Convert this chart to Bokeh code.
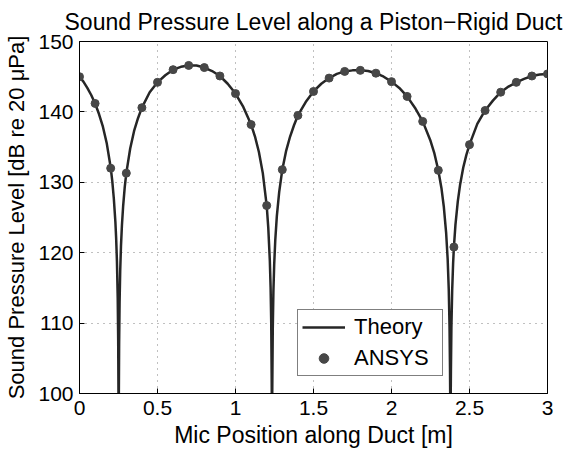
from bokeh.plotting import figure
from bokeh.models import Legend, LegendItem, FixedTicker, Range1d
from bokeh.embed import file_html
from bokeh.resources import INLINE

# Theory curve
theory_x = [0.000, 0.025, 0.050, 0.075, 0.100, 0.125, 0.150, 0.175, 0.200, 0.210,
            0.220, 0.230, 0.235, 0.240, 0.245, 0.248, 0.251,
            0.254, 0.257, 0.261, 0.266, 0.272, 0.280, 0.290, 0.300, 0.325, 0.350,
            0.375, 0.400, 0.450, 0.500, 0.550, 0.600, 0.650, 0.700, 0.750, 0.800,
            0.850, 0.900, 0.950, 1.000, 1.050, 1.100, 1.125, 1.150, 1.175, 1.200,
            1.210, 1.220, 1.225, 1.229, 1.232, 1.234,
            1.236, 1.239, 1.243, 1.248, 1.255, 1.265, 1.280, 1.300, 1.325, 1.350,
            1.375, 1.400, 1.450, 1.500, 1.550, 1.600, 1.650, 1.700, 1.750, 1.800,
            1.850, 1.900, 1.950, 2.000, 2.050, 2.100, 2.150, 2.200, 2.250, 2.275,
            2.300, 2.320, 2.335, 2.350, 2.360, 2.367, 2.372, 2.375, 2.378,
            2.381, 2.384, 2.389, 2.395, 2.400, 2.410, 2.425, 2.440, 2.460, 2.480,
            2.500, 2.550, 2.600, 2.650, 2.700, 2.750, 2.800, 2.850, 2.900, 2.950,
            3.000]
theory_y = [145.0, 144.3, 143.4, 142.4, 141.2, 139.7, 137.9, 135.5, 132.1, 130.2,
            127.7, 124.4, 122.0, 118.8, 113.5, 107.5, 95.0,
            107.0, 113.0, 117.5, 121.0, 123.9, 126.7, 129.3, 131.3, 134.8, 137.3,
            139.1, 140.6, 142.8, 144.2, 145.2, 146.0, 146.4, 146.6, 146.6, 146.3,
            145.8, 145.1, 144.0, 142.6, 140.7, 138.2, 136.5, 134.3, 131.3, 126.7,
            123.6, 118.9, 115.1, 110.0, 102.0, 95.0,
            101.4, 109.3, 114.5, 118.3, 121.8, 125.2, 128.6, 131.8, 134.5, 136.5,
            138.1, 139.5, 141.4, 142.9, 144.0, 144.8, 145.4, 145.75, 145.9, 145.9,
            145.8, 145.5, 145.0, 144.3, 143.4, 142.2, 140.6, 138.65, 135.9, 134.1,
            131.7, 129.2, 126.6, 122.9, 119.1, 114.8, 109.5, 103.5, 95.0,
            103.4, 109.4, 114.7, 118.5, 120.8, 124.0, 127.3, 129.7, 132.1, 133.9,
            135.35, 138.3, 140.2, 141.6, 142.8, 143.6, 144.2, 144.7, 145.1, 145.3,
            145.4]

# ANSYS results
ansys_x = [0.0, 0.1, 0.2, 0.3, 0.4, 0.5, 0.6, 0.7, 0.8, 0.9, 1.0, 1.1, 1.2, 1.3,
           1.4, 1.5, 1.6, 1.7, 1.8, 1.9, 2.0, 2.1, 2.2, 2.3, 2.4, 2.5, 2.6, 2.7,
           2.8, 2.9, 3.0]
ansys_y = [145.0, 141.2, 132.0, 131.3, 140.6, 144.2, 146.0, 146.6, 146.3, 145.1,
           142.6, 138.2, 126.7, 131.8, 139.5, 142.9, 144.8, 145.75, 145.9, 145.5,
           144.3, 142.2, 138.65, 131.7, 120.8, 135.35, 140.2, 142.8, 144.2, 145.1,
           145.4]

x_ticks = [0, 0.5, 1, 1.5, 2, 2.5, 3]
x_tick_labels = ["0", "0.5", "1", "1.5", "2", "2.5", "3"]
y_ticks = [100, 110, 120, 130, 140, 150]
y_tick_labels = ["100", "110", "120", "130", "140", "150"]

title_text = "Sound Pressure Level along a Piston\u2212Rigid Duct"
x_label = "Mic Position along Duct [m]"
y_label = "Sound Pressure Level [dB re 20 \u03bcPa]"
series_names = ["Theory", "ANSYS"]

FONT = "Liberation Sans"

p = figure(width=564, height=450, output_backend="svg", toolbar_location=None,
           x_range=Range1d(0, 3), y_range=Range1d(100, 150),
           min_border_left=79, min_border_right=17, min_border_top=40,
           min_border_bottom=57, title=title_text)

p.title.text_font = FONT
p.title.text_font_size = "23px"
p.title.text_font_style = "normal"
p.title.text_color = "black"
p.title.align = "center"
p.title.standoff = 13

p.outline_line_color = "black"
p.outline_line_width = 1
p.background_fill_color = "white"
p.border_fill_color = "white"


def style_axis(ax, ticks, labels):
    ax.ticker = FixedTicker(ticks=ticks)
    ax.major_label_overrides = {t: l for t, l in zip(ticks, labels)}
    ax.axis_line_color = "black"
    ax.axis_line_width = 1
    ax.major_tick_line_color = "black"
    ax.major_tick_in = 5
    ax.major_tick_out = 0
    ax.minor_tick_line_color = None
    ax.major_label_text_font = FONT
    ax.major_label_text_color = "black"
    ax.major_label_text_font_size = "21px"


xa = p.xaxis[0]
ya = p.yaxis[0]
style_axis(xa, x_ticks, x_tick_labels)
style_axis(ya, y_ticks, y_tick_labels)
xa.major_label_standoff = 7
ya.major_label_standoff = 6
xa.axis_label = x_label
ya.axis_label = y_label
xa.axis_label_text_font_size = "23px"
ya.axis_label_text_font_size = "22px"
for ax in (xa, ya):
    ax.axis_label_text_font = FONT
    ax.axis_label_text_font_style = "normal"
    ax.axis_label_text_color = "black"
xa.axis_label_standoff = 4
ya.axis_label_standoff = 6

p.xgrid.ticker = FixedTicker(ticks=x_ticks)
p.ygrid.ticker = FixedTicker(ticks=y_ticks)
for g in (p.xgrid[0], p.ygrid[0]):
    g.grid_line_color = "#808080"
    g.grid_line_dash = "1 5"
    g.grid_line_width = 1

line_r = p.line(theory_x, theory_y, line_color="#262626", line_width=2.5)
pts_r = p.scatter(ansys_x, ansys_y, size=8, fill_color="#474747",
                  line_color="#474747")

legend = Legend(items=[LegendItem(label=series_names[0], renderers=[line_r]),
                       LegendItem(label=series_names[1], renderers=[pts_r])],
                location=(218, 17))
legend.margin = 0
legend.padding = 4
legend.spacing = 5
legend.glyph_width = 43
legend.glyph_height = 24
legend.label_height = 24
legend.label_width = 84
legend.label_standoff = 9
legend.label_text_font = FONT
legend.label_text_font_size = "22px"
legend.label_text_color = "black"
legend.border_line_color = "black"
legend.border_line_width = 1
legend.background_fill_color = "white"
legend.background_fill_alpha = 1.0
p.add_layout(legend)

open("out.html", "w").write(file_html(p, INLINE))
